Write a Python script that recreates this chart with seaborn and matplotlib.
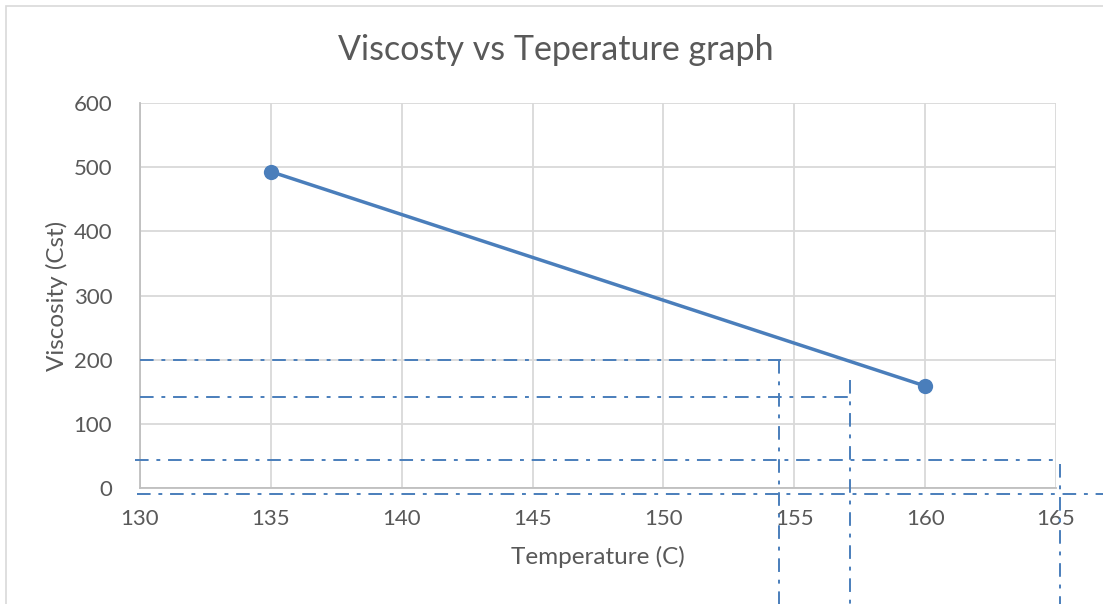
import matplotlib
matplotlib.use("Agg")
import matplotlib.pyplot as plt
import seaborn as sns
import pandas as pd
from matplotlib.patches import Rectangle

# data
temperatura = [135, 160]
viscosidade = [493, 159]

# linhas de leitura (traço-ponto) desenhadas por cima do gráfico
h_y = [200, 142, 44, -9]
h_x0 = [130, 130, 129.8, 129.9]
h_x1 = [154.5, 157.1, 165.0, 166.8]
v_x = [154.4, 157.13, 165.15]
v_y0 = [200, 169, 38]
v_y1 = [-181, -181, -181]

x_ticks = [130, 135, 140, 145, 150, 155, 160, 165]
y_ticks = [0, 100, 200, 300, 400, 500, 600]

df = pd.DataFrame({"Temperature": temperatura, "Viscosity": viscosidade})

sns.set_style("white")
plt.rcParams["font.family"] = ["Lato", "DejaVu Sans"]

azul = "#4A7EBB"
cinza_txt = "#595959"

fig = plt.figure(figsize=(11.03, 6.04), dpi=100)
ax = fig.add_axes([0.1269, 0.192, 0.9574 - 0.1269, 0.8295 - 0.192])

# borda do quadro do gráfico
fig.patches.append(Rectangle((0.005, -0.01), 1.2, 1.0, transform=fig.transFigure,
                             fill=False, edgecolor="#D9D9D9", linewidth=1.2))

sns.lineplot(data=df, x="Temperature", y="Viscosity", ax=ax, color=azul,
             linewidth=2.5, marker="o", markersize=11, markeredgewidth=0, zorder=4)

ax.set_xlim(130, 165)
ax.set_ylim(0, 600)
ax.set_xticks(x_ticks)
ax.set_yticks(y_ticks)
ax.grid(True, color="#D9D9D9", linewidth=1.3)
ax.set_axisbelow(True)
for lado in ["top", "right"]:
    ax.spines[lado].set_visible(False)
for lado in ["left", "bottom"]:
    ax.spines[lado].set_color("#BFBFBF")
    ax.spines[lado].set_linewidth(1.3)
ax.tick_params(axis="both", length=0, labelsize=16, labelcolor=cinza_txt)
ax.tick_params(axis="y", pad=20)
ax.tick_params(axis="x", pad=15)

fig.text(0.504, 0.917, "Viscosty vs Teperature graph", fontsize=24.5, color=cinza_txt,
         ha="center", va="center")
ax.set_xlabel("Temperature (C)", fontsize=17.5, color=cinza_txt, labelpad=12)
ax.set_ylabel("Viscosity (Cst)", fontsize=17.5, color=cinza_txt, labelpad=4)

for y, x0, x1 in zip(h_y, h_x0, h_x1):
    ax.plot([x0, x1], [y, y], color=azul, linewidth=1.4, linestyle=(0, (7, 4, 2, 4)),
            clip_on=False, zorder=5)
for x, y0, y1 in zip(v_x, v_y0, v_y1):
    ax.plot([x, x], [y0, y1], color=azul, linewidth=1.4, linestyle=(0, (7, 4, 2, 4)),
            clip_on=False, zorder=5)

fig.savefig("out.png", dpi=100)
plt.close()
